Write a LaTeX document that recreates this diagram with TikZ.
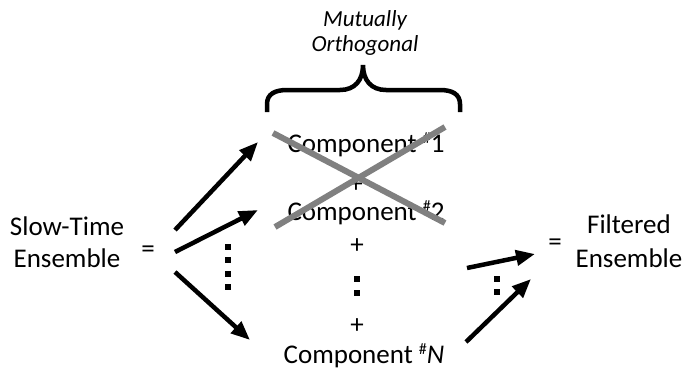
\documentclass[tikz,border=0pt]{standalone}
\usepackage{fontspec}
\setmainfont{Carlito}
\usetikzlibrary{arrows.meta}

% small raised number sign
\newcommand{\numsign}{\raisebox{0.32em}{\fontsize{16}{16}\selectfont\#}}

\tikzset{
  bigtxt/.style={font=\fontsize{27}{32}\selectfont, inner sep=0pt, anchor=base, align=center},
  captxt/.style={font=\fontsize{23}{25}\selectfont\itshape, inner sep=0pt, anchor=base, align=center},
  arr/.style={line width=4.5pt, -{Triangle[length=19pt,width=15pt]}},
  xline/.style={line width=6pt, draw={rgb,255:red,128;green,128;blue,128}},
  dotsq/.style={fill=black, minimum size=6.5pt, inner sep=0pt, draw=none, rectangle},
  bracestyle/.style={line width=4.5pt, line cap=butt}
}

\begin{document}
\begin{tikzpicture}[x=1pt,y=-1pt]
\useasboundingbox (0,0) rectangle (694,373);

% heading and brace over the component list (base = last line)
\node[captxt] (title) at (365,51) {Mutually\\Orthogonal};
\draw[bracestyle] (267,112) -- (267,104)
  .. controls (267,94) and (275,90) .. (287,90) -- (340,90)
  .. controls (355,90) and (363,80) .. (363,65)
  .. controls (363,80) and (371,90) .. (386,90) -- (440,90)
  .. controls (452,90) and (460,94) .. (460,104) -- (460,112);

% left-hand side
\node[bigtxt] (ste) at (67,267) {Slow-Time\\Ensemble};
\node[bigtxt] (eqL) at (148,257) {=};

% components
\node[bigtxt] (c1) at (366,152) {Component \numsign1};
\node[bigtxt] (p1) at (356,192) {+};
\node[bigtxt] (c2) at (366,220) {Component \numsign2};
\node[bigtxt] (p2) at (357,253) {+};
\node[dotsq] (m1) at (357,279) {};
\node[dotsq] (m2) at (357,293) {};
\node[bigtxt] (p3) at (357,333) {+};
\node[bigtxt] (cN) at (364,363) {Component \numsign\textit{N}};

% crossed-out components
\coordinate (xa) at (273,133);
\coordinate (xb) at (445,223);
\coordinate (xc) at (275,227);
\coordinate (xd) at (445,127);
\draw[xline] (xa) -- (xb);
\draw[xline] (xc) -- (xd);

% right-hand side
\node[bigtxt] (eqR) at (555,250) {=};
\node[bigtxt] (fe) at (629,267) {Filtered\\[2pt]Ensemble};

% left fan of arrows
\coordinate (s1) at (175,230);
\coordinate (t1) at (258,142);
\coordinate (s2) at (175,252);
\coordinate (t2) at (258,210);
\coordinate (s3) at (175,272);
\coordinate (t3) at (250,340);
\draw[arr] (s1) -- (t1);
\draw[arr] (s2) -- (t2);
\draw[arr] (s3) -- (t3);
\foreach \yy [count=\i] in {247,260,274,287}
  \node[dotsq] (l\i) at (228,\yy) {};

% right pair of arrows
\coordinate (r1) at (467,268);
\coordinate (u1) at (535,254);
\coordinate (r2) at (466,342);
\coordinate (u2) at (531,279);
\draw[arr] (r1) -- (u1);
\draw[arr] (r2) -- (u2);
\node[dotsq] (rd1) at (497,279) {};
\node[dotsq] (rd2) at (497,292) {};
\end{tikzpicture}
\end{document}
